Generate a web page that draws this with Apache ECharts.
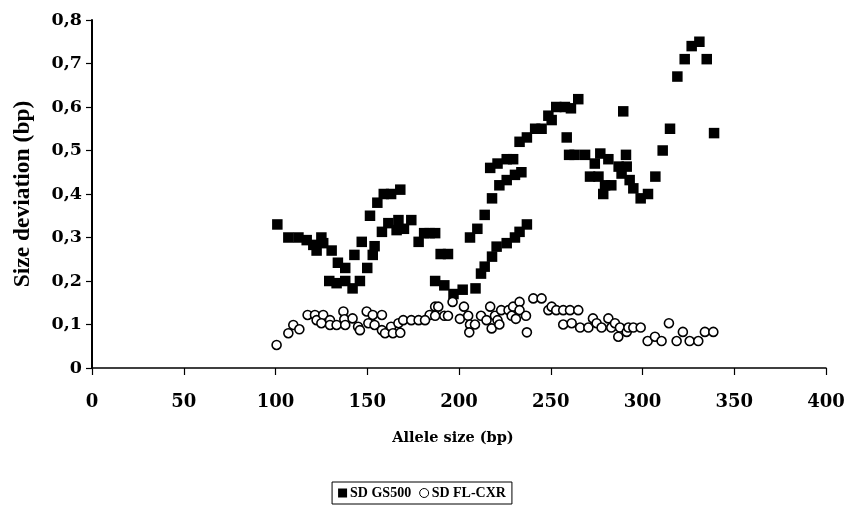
<!DOCTYPE html>
<html><head><meta charset="utf-8">
<script src="https://cdn.jsdelivr.net/npm/echarts@6/dist/echarts.min.js"></script>
<style>html,body{margin:0;padding:0;background:#fff}#c{width:844px;height:518px}</style>
</head><body><div id="c"></div>
<script>
var xTicks = [0, 50, 100, 150, 200, 250, 300, 350, 400];
var yTicks = [0, 0.1, 0.2, 0.3, 0.4, 0.5, 0.6, 0.7, 0.8];

var gsX = [101,107,112.5,117,120.6,125,126,122.4,130.6,134,138,129.3,133.3,138,142,146,143,147,150,153,154,151.5,155.5,159,163,168,158,161.5,166,167,170,174,178,181,184,187,187,190,194,192,197,202,209,212,214,218,220.5,226,230.5,233,237,206,210,214,218,222,226,230.5,234,217,221,226,229.5,233,237,241.5,245,248.7,250.5,253,257.7,258.7,260,261,265,263,268.7,277,291,274,281.4,287,291.4,271.4,276,279.6,278.6,283,288.6,293,295,299,303,307,311,315,319,323,326.8,331,335,339,289.5];
var gsY = [0.33,0.30,0.30,0.294,0.283,0.30,0.287,0.27,0.27,0.242,0.23,0.20,0.195,0.20,0.183,0.20,0.26,0.29,0.23,0.26,0.28,0.35,0.38,0.40,0.40,0.41,0.313,0.333,0.317,0.34,0.32,0.34,0.29,0.31,0.31,0.31,0.20,0.262,0.262,0.19,0.17,0.18,0.183,0.217,0.233,0.256,0.279,0.287,0.30,0.313,0.33,0.30,0.32,0.352,0.39,0.42,0.432,0.444,0.45,0.46,0.47,0.48,0.48,0.52,0.53,0.55,0.55,0.58,0.57,0.60,0.60,0.53,0.49,0.597,0.618,0.49,0.49,0.493,0.49,0.47,0.48,0.463,0.463,0.44,0.44,0.42,0.40,0.42,0.447,0.432,0.413,0.39,0.40,0.44,0.50,0.55,0.67,0.71,0.74,0.75,0.71,0.54,0.59];

var fxX = [100.6,107,109.7,113,117.5,121.5,122.4,126,125,129.7,129.7,133.3,137,137.5,138,142,145,146,149.7,150.6,153,154,158,158,159.7,163,164,168,167,169.6,174,178,187,188.7,184,181.5,187,192,194,196.5,200.5,202.7,205,206,205.6,208.7,212,215,217,217.8,219.6,221,222,223,227,228.7,229.5,233,231,233,236.5,237,240.5,245,248.7,250.5,253,256.8,256.8,260.5,265,261.4,266,270.5,273,275,277.7,281.4,283,285,287.7,286.8,291.4,292.3,295,299,302.8,306.8,310.4,314.4,318.6,322,325.7,330.4,334,338.6];
var fxY = [0.053,0.08,0.099,0.089,0.122,0.122,0.11,0.122,0.103,0.11,0.099,0.099,0.13,0.112,0.099,0.114,0.095,0.087,0.13,0.103,0.122,0.099,0.122,0.087,0.08,0.095,0.08,0.081,0.103,0.11,0.11,0.11,0.141,0.141,0.122,0.11,0.12,0.12,0.12,0.152,0.113,0.141,0.12,0.10,0.082,0.10,0.12,0.11,0.141,0.091,0.12,0.11,0.10,0.133,0.133,0.12,0.141,0.152,0.113,0.133,0.12,0.082,0.16,0.16,0.133,0.141,0.133,0.133,0.10,0.133,0.133,0.103,0.093,0.093,0.114,0.103,0.093,0.114,0.093,0.103,0.093,0.072,0.083,0.093,0.093,0.093,0.062,0.072,0.062,0.103,0.062,0.083,0.062,0.062,0.083,0.083];

function pairs(xs, ys){ return xs.map(function(x,i){ return [x, ys[i]]; }); }

var font = '"Liberation Serif", "Times New Roman", serif';
var wide = '"DejaVu Serif", serif';
var chart = echarts.init(document.getElementById('c'), null, {renderer:'canvas'});
chart.setOption({
  animation: false,
  backgroundColor: '#fff',
  grid: {left: 92, right: 18, top: 20, bottom: 150, containLabel: false, outerBoundsMode: 'none'},
  xAxis: {
    type: 'value', min: xTicks[0], max: xTicks[xTicks.length-1], interval: 50,
    name: 'Allele size (bp)', nameLocation: 'middle', nameGap: 63,
    nameTextStyle: {fontFamily: wide, fontWeight: 'bold', fontSize: 14.5, color: '#000', padding: [0, 12, 0, 0]},
    axisLine: {show: true, lineStyle: {color: '#000', width: 1.5}},
    axisTick: {show: true, inside: false, length: 7, lineStyle: {color: '#000', width: 1.2}},
    axisLabel: {fontFamily: wide, fontWeight: 'bold', fontSize: 18, color: '#000', margin: 25},
    splitLine: {show: false}
  },
  yAxis: {
    type: 'value', min: yTicks[0], max: yTicks[yTicks.length-1], interval: 0.1,
    name: 'Size deviation (bp)', nameLocation: 'middle', nameGap: 57,
    nameTextStyle: {fontFamily: font, fontWeight: 'bold', fontSize: 23.5, color: '#000'},
    axisLine: {show: true, lineStyle: {color: '#000', width: 2}},
    axisTick: {show: true, inside: false, length: 6, lineStyle: {color: '#000', width: 1.2}},
    axisLabel: {fontFamily: wide, fontWeight: 'bold', fontSize: 17.5, color: '#000', margin: 10,
      formatter: function(v){ return v === 0 ? '0' : v.toFixed(1).replace('.', ','); }},
    splitLine: {show: false}
  },
  legend: {
    bottom: 14, left: 'center',
    borderColor: '#000', borderWidth: 1, padding: [4, 6, 4, 6],
    itemGap: 8, itemWidth: 9, itemHeight: 9,
    textStyle: {fontFamily: font, fontWeight: 'bold', fontSize: 14, color: '#000', padding: [0,0,0,-2]},
    data: [
      {name: 'SD GS500', icon: 'rect', itemStyle: {color: '#000'}},
      {name: 'SD FL-CXR', icon: 'circle', itemStyle: {color: '#fff', borderColor: '#000', borderWidth: 1}}
    ]
  },
  series: [
    {
      name: 'SD GS500', type: 'scatter', symbol: 'rect', symbolSize: 10.5,
      itemStyle: {color: '#000', opacity: 1},
      data: pairs(gsX, gsY)
    },
    {
      name: 'SD FL-CXR', type: 'scatter', symbol: 'circle', symbolSize: 9,
      itemStyle: {color: '#fff', borderColor: '#000', borderWidth: 1.6, opacity: 1},
      data: pairs(fxX, fxY)
    }
  ]
});
</script></body></html>
